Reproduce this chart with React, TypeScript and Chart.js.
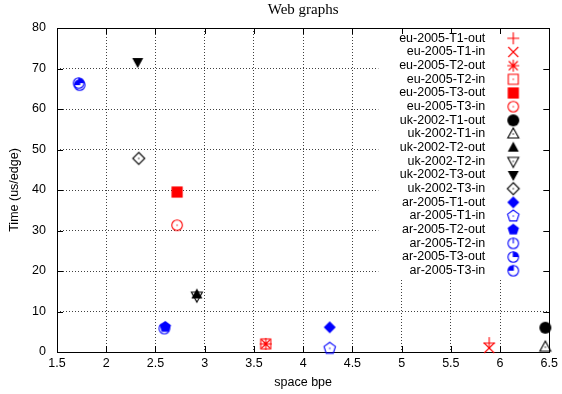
import { useEffect, useRef } from "react";
import { Chart, registerables } from "chart.js";

Chart.register(...registerables);

// ---------- data ----------
const seriesNames = [
  "eu-2005-T1-out", "eu-2005-T1-in", "eu-2005-T2-out", "eu-2005-T2-in", "eu-2005-T3-out", "eu-2005-T3-in",
  "uk-2002-T1-out", "uk-2002-T1-in", "uk-2002-T2-out", "uk-2002-T2-in", "uk-2002-T3-out", "uk-2002-T3-in",
  "ar-2005-T1-out", "ar-2005-T1-in", "ar-2005-T2-out", "ar-2005-T2-in", "ar-2005-T3-out", "ar-2005-T3-in",
];
const xValues = [5.89, 5.89, 3.62, 3.62, 2.72, 2.72, 6.46, 6.46, 2.92, 2.92, 2.32, 2.33, 4.27, 4.27, 2.60, 2.59, 1.72, 1.73];
const yValues = [2.2, 1.0, 2.0, 2.0, 39.5, 31.3, 6.0, 1.2, 14.2, 13.8, 71.6, 47.8, 6.1, 0.9, 6.2, 5.8, 66.4, 65.9];
const seriesColors = [
  "#ff0000", "#ff0000", "#ff0000", "#ff0000", "#ff0000", "#ff0000",
  "#000000", "#000000", "#000000", "#000000", "#000000", "#000000",
  "#0000ff", "#0000ff", "#0000ff", "#0000ff", "#0000ff", "#0000ff",
];
const markerKinds = [
  "plus", "cross", "star", "boxOpen", "boxFilled", "circleOpen",
  "circleFilled", "triUpOpen", "triUpFilled", "triDownOpen", "triDownFilled", "diamondOpen",
  "diamondFilled", "pentOpen", "pentFilled", "circleC0", "circleC1", "circleC2",
];
const xTicks = [1.5, 2, 2.5, 3, 3.5, 4, 4.5, 5, 5.5, 6, 6.5];
const xTickLabels = ["1.5", "2", "2.5", "3", "3.5", "4", "4.5", "5", "5.5", "6", "6.5"];
const yTicks = [0, 10, 20, 30, 40, 50, 60, 70, 80];
const yTickLabels = ["0", "10", "20", "30", "40", "50", "60", "70", "80"];
const chartTitle = "Web graphs";
const xTitle = "space bpe";
const yTitle = "Time (us/edge)";

const SANS = "'Liberation Sans', Arial, sans-serif";
const SERIF = "'Liberation Serif', 'Times New Roman', serif";
const FS = 12.5;

function makeMarker(kind: string, color: string): HTMLCanvasElement {
  const S = 16;
  const c = document.createElement("canvas");
  c.width = S;
  c.height = S;
  const g = c.getContext("2d")!;
  const m = S / 2;
  g.strokeStyle = color;
  g.fillStyle = color;
  g.lineWidth = 1.1;
  const dot = () => g.fillRect(m - 0.6, m - 0.6, 1.2, 1.2);
  const poly = (pts: number[][], fill: boolean) => {
    g.beginPath();
    pts.forEach((p, i) => (i ? g.lineTo(m + p[0], m + p[1]) : g.moveTo(m + p[0], m + p[1])));
    g.closePath();
    if (fill) g.fill();
    else {
      g.stroke();
      dot();
    }
  };
  const pent = (r: number) => {
    const pts: number[][] = [];
    for (let k = 0; k < 5; k++) {
      const a = -Math.PI / 2 + (k * 2 * Math.PI) / 5;
      pts.push([r * Math.cos(a), r * Math.sin(a)]);
    }
    return pts;
  };
  const R = 5.3;
  switch (kind) {
    case "plus":
      g.beginPath();
      g.moveTo(m - 6, m); g.lineTo(m + 6, m);
      g.moveTo(m, m - 6); g.lineTo(m, m + 6);
      g.stroke();
      break;
    case "cross":
      g.beginPath();
      g.moveTo(m - 5, m - 5); g.lineTo(m + 5, m + 5);
      g.moveTo(m + 5, m - 5); g.lineTo(m - 5, m + 5);
      g.stroke();
      break;
    case "star":
      g.beginPath();
      g.moveTo(m - 6, m); g.lineTo(m + 6, m);
      g.moveTo(m, m - 6); g.lineTo(m, m + 6);
      g.moveTo(m - 4.5, m - 4.5); g.lineTo(m + 4.5, m + 4.5);
      g.moveTo(m + 4.5, m - 4.5); g.lineTo(m - 4.5, m + 4.5);
      g.stroke();
      break;
    case "boxOpen":
      poly([[-5, -5], [5, -5], [5, 5], [-5, 5]], false);
      break;
    case "boxFilled":
      poly([[-5.6, -5.6], [5.6, -5.6], [5.6, 5.6], [-5.6, 5.6]], true);
      break;
    case "circleOpen":
      g.beginPath(); g.arc(m, m, R, 0, Math.PI * 2); g.stroke(); dot();
      break;
    case "circleFilled":
      g.beginPath(); g.arc(m, m, 6, 0, Math.PI * 2); g.fill();
      break;
    case "triUpOpen":
      poly([[0, -6], [5.5, 4], [-5.5, 4]], false);
      break;
    case "triUpFilled":
      poly([[0, -6], [5.5, 4], [-5.5, 4]], true);
      break;
    case "triDownOpen":
      poly([[0, 6], [5.5, -4], [-5.5, -4]], false);
      break;
    case "triDownFilled":
      poly([[0, 6], [5.5, -4], [-5.5, -4]], true);
      break;
    case "diamondOpen":
      poly([[0, -6], [6, 0], [0, 6], [-6, 0]], false);
      break;
    case "diamondFilled":
      poly([[0, -6], [6, 0], [0, 6], [-6, 0]], true);
      break;
    case "pentOpen":
      poly(pent(6), false);
      break;
    case "pentFilled":
      poly(pent(6), true);
      break;
    case "circleC0":
    case "circleC1":
    case "circleC2":
      if (kind === "circleC1") {
        g.beginPath(); g.moveTo(m, m); g.arc(m, m, R, -Math.PI / 2, 0); g.closePath(); g.fill();
      }
      if (kind === "circleC2") {
        g.beginPath(); g.moveTo(m, m); g.arc(m, m, R, Math.PI, Math.PI * 1.5); g.closePath(); g.fill();
      }
      g.beginPath(); g.arc(m, m, R, 0, Math.PI * 2); g.stroke();
      g.beginPath(); g.moveTo(m, m); g.lineTo(m, m - R); g.stroke();
      break;
  }
  return c;
}

const framePlugin = {
  id: "gnuframe",
  beforeDatasetsDraw(chart: any) {
    const { ctx, chartArea: a, scales } = chart;
    ctx.save();
    // opaque key box
    ctx.fillStyle = "#ffffff";
    ctx.fillRect(a.right - 171, a.top + 1, 170, 250);
    // border
    ctx.strokeStyle = "#000";
    ctx.lineWidth = 1;
    ctx.strokeRect(Math.round(a.left) + 0.5, Math.round(a.top) + 0.5, Math.round(a.right - a.left), Math.round(a.bottom - a.top));
    // inward ticks
    ctx.beginPath();
    yTicks.forEach((v) => {
      const y = Math.round(scales.y.getPixelForValue(v)) + 0.5;
      ctx.moveTo(a.left, y); ctx.lineTo(a.left + 6, y);
      ctx.moveTo(a.right, y); ctx.lineTo(a.right - 6, y);
    });
    xTicks.forEach((v) => {
      const x = Math.round(scales.x.getPixelForValue(v)) + 0.5;
      ctx.moveTo(x, a.bottom); ctx.lineTo(x, a.bottom - 6);
      ctx.moveTo(x, a.top); ctx.lineTo(x, a.top + 6);
    });
    ctx.stroke();
    // key
    ctx.font = `${FS}px ${SANS}`;
    ctx.fillStyle = "#000";
    ctx.textAlign = "right";
    ctx.textBaseline = "middle";
    chart.data.datasets.forEach((ds: any, i: number) => {
      const y = a.top + 10.3 + i * 13.67;
      ctx.fillText(ds.label, a.right - 64, y);
      const img = ds.pointStyle as HTMLCanvasElement;
      ctx.drawImage(img, a.right - 36 - img.width / 2, y - img.height / 2);
    });
    ctx.restore();
  },
};

export default function App() {
  const ref = useRef<HTMLCanvasElement | null>(null);
  useEffect(() => {
    if (!ref.current) return;
    const n = seriesNames.length;
    const chart = new Chart(ref.current, {
      type: "scatter",
      data: {
        datasets: seriesNames.map((name, i) => ({
          label: name,
          data: [{ x: xValues[i], y: yValues[i] }],
          pointStyle: makeMarker(markerKinds[i], seriesColors[i]) as any,
          pointRadius: 6,
          pointBorderWidth: 0,
          backgroundColor: seriesColors[i],
          borderColor: seriesColors[i],
          order: n - i,
          clip: false as any,
        })),
      },
      options: {
        responsive: false,
        animation: false,
        devicePixelRatio: 1,
        layout: { padding: { left: 0, right: 11, top: 0, bottom: 0 } },
        plugins: {
          legend: { display: false },
          tooltip: { enabled: false },
          title: {
            display: true,
            text: chartTitle,
            fullSize: false,
            color: "#000",
            font: { family: SERIF, size: 15, weight: "normal" as any, lineHeight: 1.2 },
            padding: { top: 1, bottom: 9 },
          },
        },
        scales: {
          x: {
            type: "linear",
            min: 1.5,
            max: 6.5,
            afterBuildTicks: (s: any) => { s.ticks = xTicks.map((v) => ({ value: v })); },
            afterFit: (s: any) => { s.height = 42; },
            ticks: {
              color: "#000",
              font: { family: SANS, size: FS },
              padding: 4,
              maxRotation: 0,
              callback: (_v: any, idx: number) => xTickLabels[idx],
            },
            grid: { color: "rgba(0,0,0,0.75)", lineWidth: 1, drawTicks: false },
            border: { display: false, dash: [1, 2] },
            title: {
              display: true,
              text: xTitle,
              color: "#000",
              font: { family: SANS, size: FS },
              padding: { top: 0, bottom: 4 },
            },
          },
          y: {
            type: "linear",
            min: 0,
            max: 80,
            afterBuildTicks: (s: any) => { s.ticks = yTicks.map((v) => ({ value: v })); },
            afterFit: (s: any) => { s.width = 57; },
            ticks: {
              color: "#000",
              font: { family: SANS, size: FS },
              padding: 11,
              callback: (_v: any, idx: number) => yTickLabels[idx],
            },
            grid: { color: "rgba(0,0,0,0.75)", lineWidth: 1, drawTicks: false },
            border: { display: false, dash: [1, 2] },
            title: {
              display: true,
              text: yTitle,
              color: "#000",
              font: { family: SANS, size: FS },
              padding: { top: 7, bottom: 0 },
            },
          },
        },
      },
      plugins: [framePlugin],
    });
    return () => chart.destroy();
  }, []);
  return (
    <div style={{ position: "fixed", left: 0, top: 0, width: 562, height: 394, background: "#fff" }}>
      <canvas ref={ref} width={562} height={394} style={{ display: "block" }} />
    </div>
  );
}
